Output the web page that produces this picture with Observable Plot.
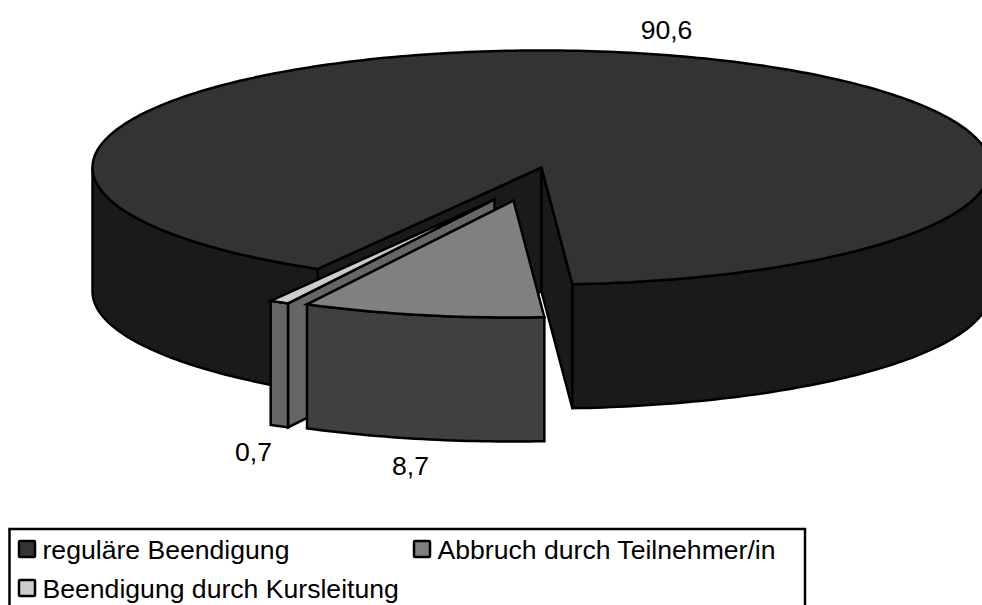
<!DOCTYPE html>
<html lang="de">
<head>
<meta charset="utf-8">
<style>
html,body{margin:0;padding:0;background:#fff;overflow:hidden}
svg{display:block}
</style>
<script src="https://cdn.jsdelivr.net/npm/d3@7"></script>
<script src="https://cdn.jsdelivr.net/npm/@observablehq/plot@0.6"></script>
</head>
<body>
<script>
// Data
const categories = ["reguläre Beendigung", "Abbruch durch Teilnehmer/in", "Beendigung durch Kursleitung"];
const values = [90.6, 8.7, 0.7];
const valueLabels = ["90,6", "8,7", "0,7"];

// Styles
const topFills = ["#333333", "#808080", "#cccccc"];
const wallFills = ["#1a1a1a", "#404040", "#666666"];
const fontFamily = "Liberation Sans, Arial, sans-serif";

// Layout of the pseudo-3D pie (in picture units)
const W = 982, H = 605;
const cx = 541, cy = 167, rx = 449, ry = 117, depth = 124;
const firstAngle = 209.9;
const explode = [[0, 0], [-28, 33], [-47, 32]];

// Angles follow the values clockwise from firstAngle
const total = d3.sum(values);
let acc = firstAngle;
const slices = values.map((v, i) => {
  const a0 = acc, a1 = acc + v / total * 360;
  acc = a1;
  return {i, a0, a1, ox: cx + explode[i][0], oy: cy + explode[i][1]};
});

const pt = (s, a, dz = 0) => {
  const r = a * Math.PI / 180;
  return {x: s.ox + rx * Math.sin(r), y: s.oy - ry * Math.cos(r) + dz};
};
const arcPts = (s, a0, a1, dz = 0) => {
  const n = Math.max(2, Math.ceil(Math.abs(a1 - a0)));
  return d3.range(n + 1).map(k => pt(s, a0 + (a1 - a0) * k / n, dz));
};
const closed = p => [...p, p[0], p[1]];
const topFace = s => closed([{x: s.ox, y: s.oy}, ...arcPts(s, s.a0, s.a1)]);
const wallFace = (s, a0, a1) => closed([...arcPts(s, a0, a1), ...arcPts(s, a1, a0, depth)]);
const cutFace = (s, a) => closed([{x: s.ox, y: s.oy}, pt(s, a), pt(s, a, depth), {x: s.ox, y: s.oy + depth}]);

const poly = (p, fill) => Plot.line(p, {
  x: "x", y: "y", fill, stroke: "#000", strokeWidth: 2.5, strokeLinejoin: "miter", strokeMiterlimit: 6
});

const [mainSlice, abbruch, kurs] = slices;
const pieMarks = [
  // main slice: cut faces, outer wall (front arcs only), top
  poly(cutFace(mainSlice, mainSlice.a0), wallFills[0]),
  poly(cutFace(mainSlice, mainSlice.a1), wallFills[0]),
  poly(wallFace(mainSlice, mainSlice.a0, 270), wallFills[0]),
  poly(wallFace(mainSlice, 450, mainSlice.a1), wallFills[0]),
  poly(topFace(mainSlice), topFills[0]),
  // thin slice
  poly(cutFace(kurs, kurs.a0), wallFills[2]),
  poly(wallFace(kurs, kurs.a0, kurs.a1), wallFills[2]),
  poly(topFace(kurs), topFills[2]),
  // exploded slice
  poly(wallFace(abbruch, abbruch.a0, abbruch.a1), wallFills[1]),
  poly(topFace(abbruch), topFills[1])
];

// Value labels
const labelPos = [[666, 30], [410, 466], [253, 452]];
const labelData = valueLabels.map((t, i) => ({t, x: labelPos[i][0], y: labelPos[i][1]}));

// Legend
const legendPos = [[19, 541, 42], [414, 541, 437], [19, 580, 42]];
const legendData = categories.map((c, i) => ({
  c, sx: legendPos[i][0], sy: legendPos[i][1], tx: legendPos[i][2], fill: topFills[i]
}));

const chart = Plot.plot({
  width: W, height: H,
  margin: 0,
  style: {background: "#fff", fontFamily},
  x: {domain: [0, W], range: [0, W], axis: null},
  y: {domain: [0, H], range: [0, H], axis: null},
  marks: [
    ...pieMarks,
    Plot.text(labelData, {x: "x", y: "y", text: "t", fontSize: 26.6, fontFamily, fill: "#000", textAnchor: "middle"}),
    Plot.rect([{x1: 9.5, x2: 805, y1: 529, y2: 640}], {x1: "x1", x2: "x2", y1: "y1", y2: "y2", fill: "#fff", stroke: "#000", strokeWidth: 2.5}),
    ...legendData.map(d => Plot.rect([d], {
      x1: e => e.sx, x2: e => e.sx + 16, y1: e => e.sy, y2: e => e.sy + 16,
      fill: d.fill, stroke: "#000", strokeWidth: 2.5, rx: 1
    })),
    Plot.text(legendData, {x: "tx", y: d => d.sy + 8.5, text: "c", fontSize: 26.6, fontFamily, fill: "#000", textAnchor: "start"})
  ]
});
document.body.appendChild(chart);
</script>
</body>
</html>
